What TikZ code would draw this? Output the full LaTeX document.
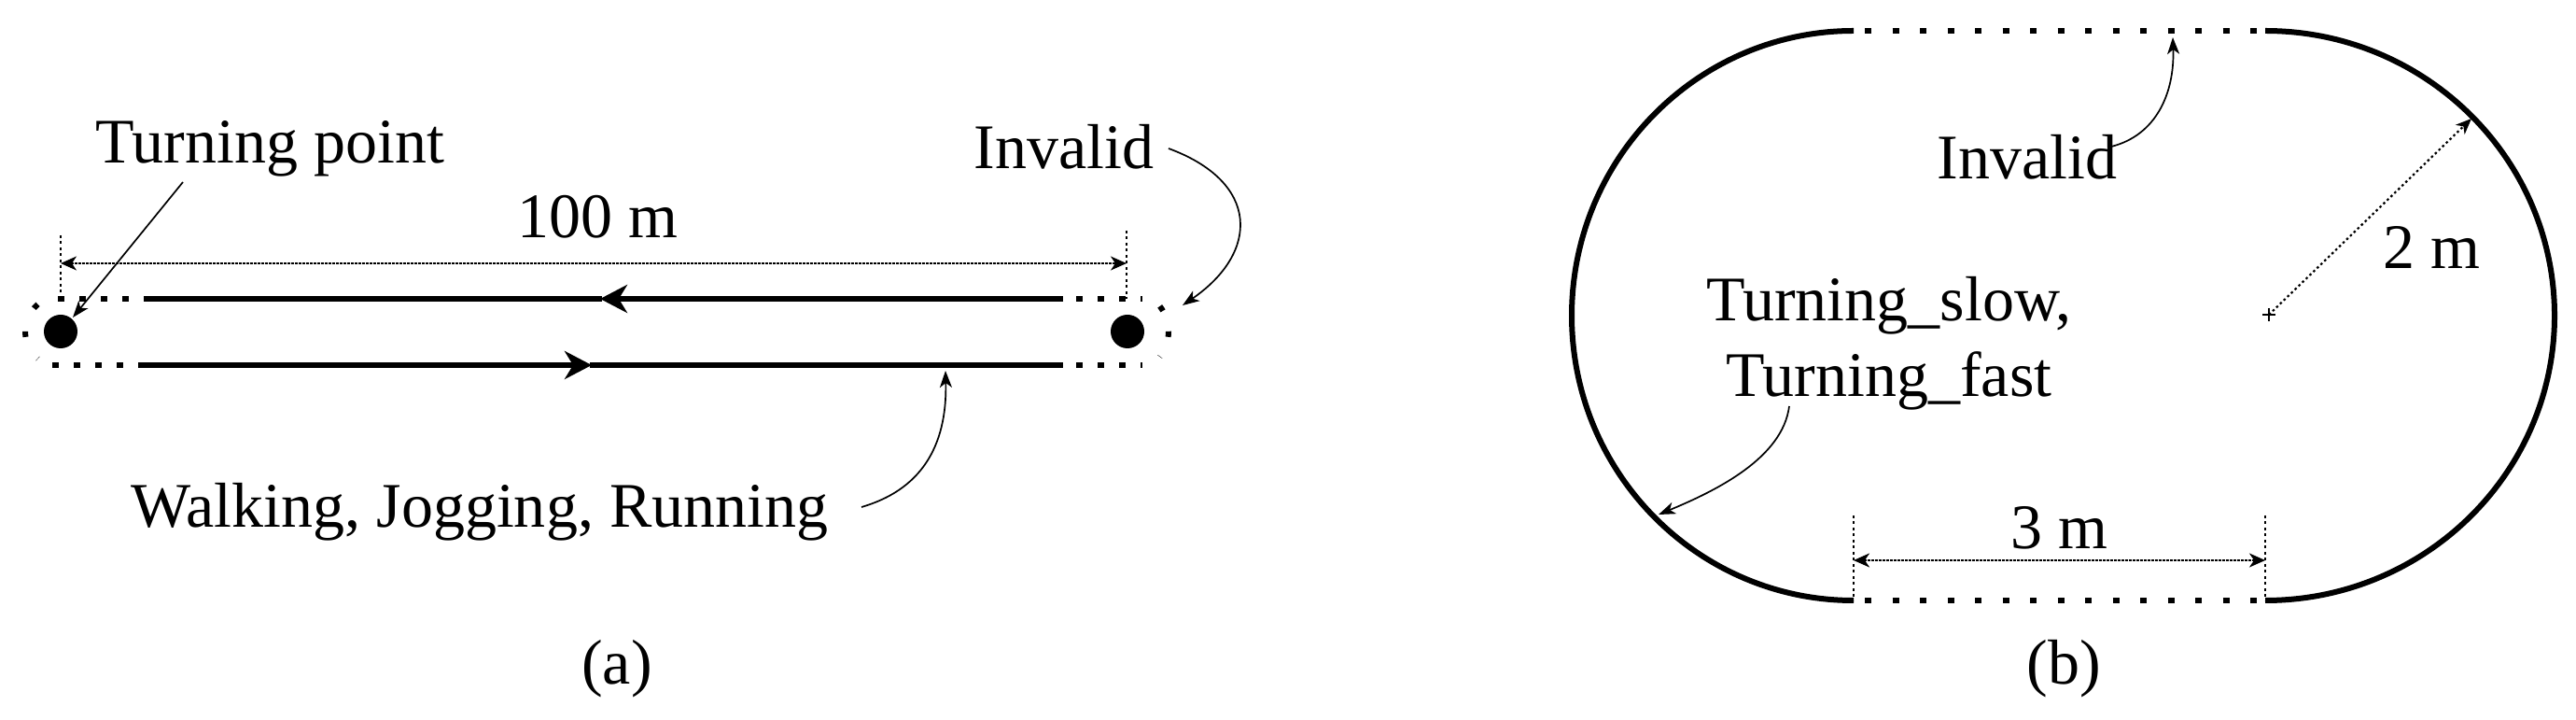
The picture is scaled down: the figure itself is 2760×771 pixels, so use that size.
\documentclass[tikz,border=0pt]{standalone}
\usepackage{fontspec}
\setmainfont{Liberation Serif}
\usetikzlibrary{arrows.meta}
\begin{document}
\begin{tikzpicture}[x=0.1mm,y=-0.1mm,
  lbl/.style={inner sep=0pt, font=\fontsize{19.35pt}{23.05pt}\selectfont},
  track/.style={line width=0.6mm},
  dotsa/.style={line width=0.6mm, dash pattern=on 0.7mm off 1.6mm},
  dotsb/.style={line width=0.6mm, dash pattern=on 0.7mm off 2.25mm, dash phase=1.75mm},
  bigtip/.style={-{Stealth[length=2.9mm,width=3mm,inset=0.9mm]}},
  pointer/.style={line width=0.17mm, -{Stealth[length=1.8mm,width=1.3mm,inset=0.5mm]}},
  dimline/.style={line width=0.2mm, dash pattern=on 0.25mm off 0.15mm,
    {Stealth[length=1.7mm,width=1.5mm,inset=0.5mm]}-{Stealth[length=1.7mm,width=1.5mm,inset=0.5mm]}},
  radline/.style={line width=0.22mm, dash pattern=on 0.25mm off 0.3mm,
    -{Stealth[length=1.7mm,width=1.4mm,inset=0.5mm]}},
  extline/.style={line width=0.25mm, dash pattern=on 0.3mm off 0.35mm},
  dotnode/.style={circle, fill=black, inner sep=0pt, minimum size=3.6mm}]
\fill[white] (0,0) rectangle (2760,771);
\useasboundingbox (0,0) rectangle (2760,771);

% ---------------- (a) ----------------
% track lines
\draw[track, bigtip] (1139,320) -- (643,320);
\draw[track] (645,320) -- (155,320);
\draw[track, bigtip] (154,391) -- (634,391);
\draw[track] (632,391) -- (1139,391);
\draw[dotsa] (62,320) -- (157,320);
\draw[dotsa] (56,391) -- (156,391);
\draw[dotsa, dash phase=0.9mm] (1139,320) -- (1224,320);
\draw[dotsa, dash phase=0.9mm] (1139,391) -- (1224,391);
\draw[line width=0.6mm, dash pattern=on 0.6mm off 2.7mm] (65,355) ++(230:38) arc[start angle=230, end angle=130, radius=38];
\draw[line width=0.6mm, dash pattern=on 0.6mm off 2.3mm] (1208,355) ++(-38:44) arc[start angle=-38, end angle=38, radius=44];
% turning points
\node[dotnode] (dotL) at (65,355) {};
\node[dotnode] (dotR) at (1208,355) {};
% dimension 100 m
\coordinate (dimL) at (65,282);
\coordinate (dimR) at (1207,282);
\draw[extline] (65,252) -- (65,320);
\draw[extline] (1207,247) -- (1207,320);
\draw[dimline] (dimL) -- (dimR);
\node[lbl, anchor=base] (hundred) at (640,255) {100 m};
% labels
\node[lbl, anchor=base west] (tp) at (102,175) {Turning point};
\coordinate (tpstart) at (196,195);
\coordinate (tptip) at (78,340);
\draw[pointer] (tpstart) -- (tptip);
\node[lbl, anchor=base west] (inva) at (1043,181) {Invalid};
\coordinate (invastart) at (1252,159);
\coordinate (invatip) at (1267,327);
\draw[pointer] (invastart) .. controls (1350,195) and (1350,270) .. (invatip);
\node[lbl, anchor=base east] (walk) at (888,565) {Walking, Jogging, Running};
\coordinate (walkstart) at (923,543);
\coordinate (walktip) at (1013,397);
\draw[pointer] (walkstart) .. controls (985,525) and (1015,480) .. (walktip);
\node[lbl, anchor=base] (capa) at (661,733) {(a)};

% ---------------- (b) ----------------
\draw[track] (1986,33) arc[start angle=270, end angle=90, x radius=302, y radius=305];
\draw[track] (2427,643) arc[start angle=90, end angle=-90, x radius=310, y radius=305];
\draw[dotsb] (1986,33) -- (2427,33);
\draw[dotsb] (1986,643) -- (2427,643);
% centre and radius
\coordinate (ctr) at (2431,337);
\draw[line width=0.17mm] (2431,330) -- (2431,344) (2424,337) -- (2438,337);
\coordinate (rtip) at (2648,127);
\draw[radline] (ctr) -- (rtip);
\node[lbl, anchor=base west] (twom) at (2553,288) {2 m};
% invalid
\node[lbl, anchor=base west] (invb) at (2075,192) {Invalid};
\coordinate (invbstart) at (2262,157);
\coordinate (invbtip) at (2328,40);
\draw[pointer] (invbstart) .. controls (2310,145) and (2330,100) .. (invbtip);
% turning
\node[lbl, anchor=base] (turn1) at (2024,344) {Turning\_slow,};
\node[lbl, anchor=base] (turn2) at (2024,425) {Turning\_fast};
\coordinate (turnstart) at (1917,435);
\coordinate (turntip) at (1777,551);
\draw[pointer] (turnstart) .. controls (1910,490) and (1840,525) .. (turntip);
% dimension 3 m
\coordinate (dimbL) at (1986,600);
\coordinate (dimbR) at (2427,600);
\draw[extline] (1986,552) -- (1986,643);
\draw[extline] (2427,552) -- (2427,643);
\draw[dimline] (dimbL) -- (dimbR);
\node[lbl, anchor=base] (threem) at (2206,588) {3 m};
\node[lbl, anchor=base] (capb) at (2211,733) {(b)};
\end{tikzpicture}
\end{document}
